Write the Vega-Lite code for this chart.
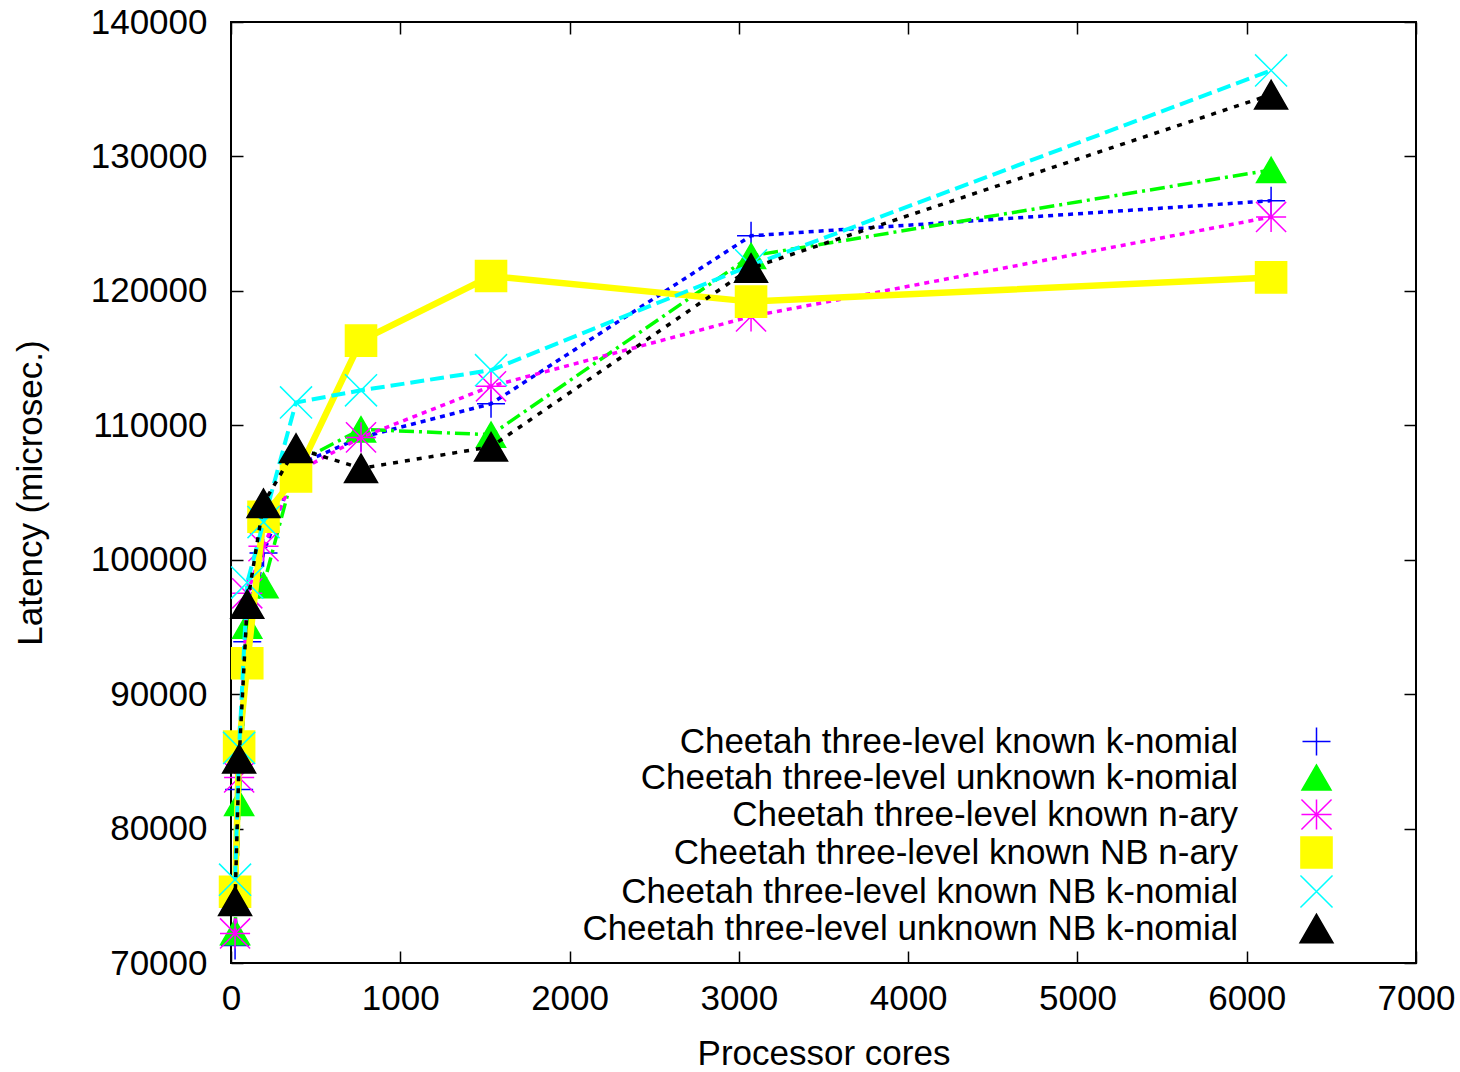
{
  "$schema": "https://vega.github.io/schema/vega-lite/v6.json",
  "width": 1185,
  "height": 941,
  "autosize": {"type": "none"},
  "padding": {"left": 231, "top": 22, "right": 44, "bottom": 109},
  "background": "white",
  "config": {
    "view": {"stroke": "#000000", "strokeWidth": 2},
    "font": "Liberation Sans",
    "axis": {
      "domain": false,
      "grid": false,
      "tickColor": "#000000",
      "tickWidth": 1.5,
      "tickSize": -12,
      "labelFont": "Liberation Sans",
      "labelFontSize": 35,
      "labelColor": "#000000",
      "labelFlush": false,
      "labelOverlap": false,
      "titleFont": "Liberation Sans",
      "titleFontSize": 35,
      "titleFontWeight": "normal",
      "titleColor": "#000000"
    },
    "legend": {
      "orient": "none",
      "legendX": 1068,
      "legendY": 702,
      "padding": 0,
      "labelAlign": "right",
      "labelOffset": -96,
      "labelFont": "Liberation Sans",
      "labelFontSize": 35,
      "labelColor": "#000000",
      "labelLimit": 900,
      "rowPadding": 0,
      "symbolStrokeWidth": 1.5,
      "symbolOpacity": 1
    }
  },
  "data": {
    "values": [
      {"series": "Cheetah three-level known k-nomial", "cores": 24, "latency": 71300},
      {"series": "Cheetah three-level known k-nomial", "cores": 48, "latency": 82900},
      {"series": "Cheetah three-level known k-nomial", "cores": 96, "latency": 93900},
      {"series": "Cheetah three-level known k-nomial", "cores": 192, "latency": 100500},
      {"series": "Cheetah three-level known k-nomial", "cores": 384, "latency": 107000},
      {"series": "Cheetah three-level known k-nomial", "cores": 768, "latency": 109100},
      {"series": "Cheetah three-level known k-nomial", "cores": 1536, "latency": 111600},
      {"series": "Cheetah three-level known k-nomial", "cores": 3072, "latency": 124100},
      {"series": "Cheetah three-level known k-nomial", "cores": 6144, "latency": 126700},

      {"series": "Cheetah three-level unknown k-nomial", "cores": 24, "latency": 72300},
      {"series": "Cheetah three-level unknown k-nomial", "cores": 48, "latency": 81900},
      {"series": "Cheetah three-level unknown k-nomial", "cores": 96, "latency": 95100},
      {"series": "Cheetah three-level unknown k-nomial", "cores": 192, "latency": 98100},
      {"series": "Cheetah three-level unknown k-nomial", "cores": 384, "latency": 107200},
      {"series": "Cheetah three-level unknown k-nomial", "cores": 768, "latency": 109700},
      {"series": "Cheetah three-level unknown k-nomial", "cores": 1536, "latency": 109300},
      {"series": "Cheetah three-level unknown k-nomial", "cores": 3072, "latency": 122600},
      {"series": "Cheetah three-level unknown k-nomial", "cores": 6144, "latency": 129000},

      {"series": "Cheetah three-level known n-ary", "cores": 24, "latency": 72200},
      {"series": "Cheetah three-level known n-ary", "cores": 48, "latency": 83800},
      {"series": "Cheetah three-level known n-ary", "cores": 96, "latency": 97500},
      {"series": "Cheetah three-level known n-ary", "cores": 192, "latency": 101000},
      {"series": "Cheetah three-level known n-ary", "cores": 384, "latency": 106500},
      {"series": "Cheetah three-level known n-ary", "cores": 768, "latency": 109100},
      {"series": "Cheetah three-level known n-ary", "cores": 1536, "latency": 112900},
      {"series": "Cheetah three-level known n-ary", "cores": 3072, "latency": 118100},
      {"series": "Cheetah three-level known n-ary", "cores": 6144, "latency": 125500},

      {"series": "Cheetah three-level known NB n-ary", "cores": 24, "latency": 75300},
      {"series": "Cheetah three-level known NB n-ary", "cores": 48, "latency": 86100},
      {"series": "Cheetah three-level known NB n-ary", "cores": 96, "latency": 92300},
      {"series": "Cheetah three-level known NB n-ary", "cores": 192, "latency": 103200},
      {"series": "Cheetah three-level known NB n-ary", "cores": 384, "latency": 106200},
      {"series": "Cheetah three-level known NB n-ary", "cores": 768, "latency": 116300},
      {"series": "Cheetah three-level known NB n-ary", "cores": 1536, "latency": 121100},
      {"series": "Cheetah three-level known NB n-ary", "cores": 3072, "latency": 119200},
      {"series": "Cheetah three-level known NB n-ary", "cores": 6144, "latency": 121000},

      {"series": "Cheetah three-level known NB k-nomial", "cores": 24, "latency": 76200},
      {"series": "Cheetah three-level known NB k-nomial", "cores": 48, "latency": 86000},
      {"series": "Cheetah three-level known NB k-nomial", "cores": 96, "latency": 98300},
      {"series": "Cheetah three-level known NB k-nomial", "cores": 192, "latency": 102800},
      {"series": "Cheetah three-level known NB k-nomial", "cores": 384, "latency": 111700},
      {"series": "Cheetah three-level known NB k-nomial", "cores": 768, "latency": 112600},
      {"series": "Cheetah three-level known NB k-nomial", "cores": 1536, "latency": 114100},
      {"series": "Cheetah three-level known NB k-nomial", "cores": 3072, "latency": 121900},
      {"series": "Cheetah three-level known NB k-nomial", "cores": 6144, "latency": 136400},

      {"series": "Cheetah three-level unknown NB k-nomial", "cores": 24, "latency": 74600},
      {"series": "Cheetah three-level unknown NB k-nomial", "cores": 48, "latency": 85200},
      {"series": "Cheetah three-level unknown NB k-nomial", "cores": 96, "latency": 96700},
      {"series": "Cheetah three-level unknown NB k-nomial", "cores": 192, "latency": 104200},
      {"series": "Cheetah three-level unknown NB k-nomial", "cores": 384, "latency": 108300},
      {"series": "Cheetah three-level unknown NB k-nomial", "cores": 768, "latency": 106800},
      {"series": "Cheetah three-level unknown NB k-nomial", "cores": 1536, "latency": 108400},
      {"series": "Cheetah three-level unknown NB k-nomial", "cores": 3072, "latency": 121700},
      {"series": "Cheetah three-level unknown NB k-nomial", "cores": 6144, "latency": 134600}
    ]
  },
  "layer": [
    {
      "encoding": {
        "x": {
          "field": "cores", "type": "quantitative",
          "scale": {"domain": [0, 7000], "nice": false, "zero": false},
          "axis": {"values": [0, 1000, 2000, 3000, 4000, 5000, 6000, 7000], "format": "d", "labelPadding": 30, "title": "Processor cores", "titleY": 90, "titleBaseline": "middle"}
        },
        "y": {
          "field": "latency", "type": "quantitative",
          "scale": {"domain": [70000, 140000], "nice": false, "zero": false},
          "axis": {"values": [70000, 80000, 90000, 100000, 110000, 120000, 130000, 140000], "format": "d", "labelPadding": 36, "title": "Latency (microsec.)", "titleX": -201, "titleBaseline": "middle"}
        }
      },
      "layer": [
        {
          "transform": [{"filter": "datum.series === 'Cheetah three-level known k-nomial'"}],
          "mark": {"type": "line", "color": "#0000ff", "strokeWidth": 3.5, "strokeDash": [5, 5], "strokeCap": "butt"}
        },
        {
          "transform": [{"filter": "datum.series === 'Cheetah three-level known k-nomial'"}],
          "mark": {"type": "point", "opacity": 1, "strokeWidth": 1.5},
          "encoding": {
            "fill": {"field": "series", "type": "nominal", "title": null, "scale": {"domain": ["Cheetah three-level known k-nomial", "Cheetah three-level unknown k-nomial", "Cheetah three-level known n-ary", "Cheetah three-level known NB n-ary", "Cheetah three-level known NB k-nomial", "Cheetah three-level unknown NB k-nomial"], "range": ["transparent", "#00ff00", "transparent", "#ffff00", "transparent", "#000000"]}},
            "stroke": {"field": "series", "type": "nominal", "title": null, "scale": {"domain": ["Cheetah three-level known k-nomial", "Cheetah three-level unknown k-nomial", "Cheetah three-level known n-ary", "Cheetah three-level known NB n-ary", "Cheetah three-level known NB k-nomial", "Cheetah three-level unknown NB k-nomial"], "range": ["#0000ff", "#00ff00", "#ff00ff", "#ffff00", "#00ffff", "#000000"]}},
            "shape": {"field": "series", "type": "nominal", "title": null, "scale": {"domain": ["Cheetah three-level known k-nomial", "Cheetah three-level unknown k-nomial", "Cheetah three-level known n-ary", "Cheetah three-level known NB n-ary", "Cheetah three-level known NB k-nomial", "Cheetah three-level unknown NB k-nomial"], "range": ["M-1,0L1,0M0,-1L0,1", "triangle-up", "M-1,0L1,0M0,-1L0,1M-1,-1L1,1M-1,1L1,-1", "square", "M-1,-1L1,1M-1,1L1,-1", "triangle-up"]}},
            "size": {"field": "series", "type": "nominal", "title": null, "scale": {"domain": ["Cheetah three-level known k-nomial", "Cheetah three-level unknown k-nomial", "Cheetah three-level known n-ary", "Cheetah three-level known NB n-ary", "Cheetah three-level known NB k-nomial", "Cheetah three-level unknown NB k-nomial"], "range": [784, 1089, 784, 841, 841, 784]}}
          }
        },
        {
          "transform": [{"filter": "datum.series === 'Cheetah three-level unknown k-nomial'"}],
          "mark": {"type": "line", "color": "#00ff00", "strokeWidth": 3.5, "strokeDash": [15, 5, 3, 5], "strokeCap": "butt"}
        },
        {
          "transform": [{"filter": "datum.series === 'Cheetah three-level unknown k-nomial'"}],
          "mark": {"type": "point", "opacity": 1, "strokeWidth": 1.5},
          "encoding": {
            "fill": {"field": "series", "type": "nominal", "title": null, "scale": {"domain": ["Cheetah three-level known k-nomial", "Cheetah three-level unknown k-nomial", "Cheetah three-level known n-ary", "Cheetah three-level known NB n-ary", "Cheetah three-level known NB k-nomial", "Cheetah three-level unknown NB k-nomial"], "range": ["transparent", "#00ff00", "transparent", "#ffff00", "transparent", "#000000"]}},
            "stroke": {"field": "series", "type": "nominal", "title": null, "scale": {"domain": ["Cheetah three-level known k-nomial", "Cheetah three-level unknown k-nomial", "Cheetah three-level known n-ary", "Cheetah three-level known NB n-ary", "Cheetah three-level known NB k-nomial", "Cheetah three-level unknown NB k-nomial"], "range": ["#0000ff", "#00ff00", "#ff00ff", "#ffff00", "#00ffff", "#000000"]}},
            "shape": {"field": "series", "type": "nominal", "title": null, "scale": {"domain": ["Cheetah three-level known k-nomial", "Cheetah three-level unknown k-nomial", "Cheetah three-level known n-ary", "Cheetah three-level known NB n-ary", "Cheetah three-level known NB k-nomial", "Cheetah three-level unknown NB k-nomial"], "range": ["M-1,0L1,0M0,-1L0,1", "triangle-up", "M-1,0L1,0M0,-1L0,1M-1,-1L1,1M-1,1L1,-1", "square", "M-1,-1L1,1M-1,1L1,-1", "triangle-up"]}},
            "size": {"field": "series", "type": "nominal", "title": null, "scale": {"domain": ["Cheetah three-level known k-nomial", "Cheetah three-level unknown k-nomial", "Cheetah three-level known n-ary", "Cheetah three-level known NB n-ary", "Cheetah three-level known NB k-nomial", "Cheetah three-level unknown NB k-nomial"], "range": [784, 1089, 784, 841, 841, 784]}}
          }
        },
        {
          "transform": [{"filter": "datum.series === 'Cheetah three-level known n-ary'"}],
          "mark": {"type": "line", "color": "#ff00ff", "strokeWidth": 3.5, "strokeDash": [5, 5], "strokeCap": "butt"}
        },
        {
          "transform": [{"filter": "datum.series === 'Cheetah three-level known n-ary'"}],
          "mark": {"type": "point", "opacity": 1, "strokeWidth": 1.5},
          "encoding": {
            "fill": {"field": "series", "type": "nominal", "title": null, "scale": {"domain": ["Cheetah three-level known k-nomial", "Cheetah three-level unknown k-nomial", "Cheetah three-level known n-ary", "Cheetah three-level known NB n-ary", "Cheetah three-level known NB k-nomial", "Cheetah three-level unknown NB k-nomial"], "range": ["transparent", "#00ff00", "transparent", "#ffff00", "transparent", "#000000"]}},
            "stroke": {"field": "series", "type": "nominal", "title": null, "scale": {"domain": ["Cheetah three-level known k-nomial", "Cheetah three-level unknown k-nomial", "Cheetah three-level known n-ary", "Cheetah three-level known NB n-ary", "Cheetah three-level known NB k-nomial", "Cheetah three-level unknown NB k-nomial"], "range": ["#0000ff", "#00ff00", "#ff00ff", "#ffff00", "#00ffff", "#000000"]}},
            "shape": {"field": "series", "type": "nominal", "title": null, "scale": {"domain": ["Cheetah three-level known k-nomial", "Cheetah three-level unknown k-nomial", "Cheetah three-level known n-ary", "Cheetah three-level known NB n-ary", "Cheetah three-level known NB k-nomial", "Cheetah three-level unknown NB k-nomial"], "range": ["M-1,0L1,0M0,-1L0,1", "triangle-up", "M-1,0L1,0M0,-1L0,1M-1,-1L1,1M-1,1L1,-1", "square", "M-1,-1L1,1M-1,1L1,-1", "triangle-up"]}},
            "size": {"field": "series", "type": "nominal", "title": null, "scale": {"domain": ["Cheetah three-level known k-nomial", "Cheetah three-level unknown k-nomial", "Cheetah three-level known n-ary", "Cheetah three-level known NB n-ary", "Cheetah three-level known NB k-nomial", "Cheetah three-level unknown NB k-nomial"], "range": [784, 1089, 784, 841, 841, 784]}}
          }
        },
        {
          "transform": [{"filter": "datum.series === 'Cheetah three-level known NB n-ary'"}],
          "mark": {"type": "line", "color": "#ffff00", "strokeWidth": 6.5, "strokeCap": "butt"}
        },
        {
          "transform": [{"filter": "datum.series === 'Cheetah three-level known NB n-ary'"}],
          "mark": {"type": "point", "opacity": 1, "strokeWidth": 1.5},
          "encoding": {
            "fill": {"field": "series", "type": "nominal", "title": null, "scale": {"domain": ["Cheetah three-level known k-nomial", "Cheetah three-level unknown k-nomial", "Cheetah three-level known n-ary", "Cheetah three-level known NB n-ary", "Cheetah three-level known NB k-nomial", "Cheetah three-level unknown NB k-nomial"], "range": ["transparent", "#00ff00", "transparent", "#ffff00", "transparent", "#000000"]}},
            "stroke": {"field": "series", "type": "nominal", "title": null, "scale": {"domain": ["Cheetah three-level known k-nomial", "Cheetah three-level unknown k-nomial", "Cheetah three-level known n-ary", "Cheetah three-level known NB n-ary", "Cheetah three-level known NB k-nomial", "Cheetah three-level unknown NB k-nomial"], "range": ["#0000ff", "#00ff00", "#ff00ff", "#ffff00", "#00ffff", "#000000"]}},
            "shape": {"field": "series", "type": "nominal", "title": null, "scale": {"domain": ["Cheetah three-level known k-nomial", "Cheetah three-level unknown k-nomial", "Cheetah three-level known n-ary", "Cheetah three-level known NB n-ary", "Cheetah three-level known NB k-nomial", "Cheetah three-level unknown NB k-nomial"], "range": ["M-1,0L1,0M0,-1L0,1", "triangle-up", "M-1,0L1,0M0,-1L0,1M-1,-1L1,1M-1,1L1,-1", "square", "M-1,-1L1,1M-1,1L1,-1", "triangle-up"]}},
            "size": {"field": "series", "type": "nominal", "title": null, "scale": {"domain": ["Cheetah three-level known k-nomial", "Cheetah three-level unknown k-nomial", "Cheetah three-level known n-ary", "Cheetah three-level known NB n-ary", "Cheetah three-level known NB k-nomial", "Cheetah three-level unknown NB k-nomial"], "range": [784, 1089, 784, 841, 841, 784]}}
          }
        },
        {
          "transform": [{"filter": "datum.series === 'Cheetah three-level known NB k-nomial'"}],
          "mark": {"type": "line", "color": "#00ffff", "strokeWidth": 4, "strokeDash": [14, 6], "strokeCap": "butt"}
        },
        {
          "transform": [{"filter": "datum.series === 'Cheetah three-level known NB k-nomial'"}],
          "mark": {"type": "point", "opacity": 1, "strokeWidth": 1.5},
          "encoding": {
            "fill": {"field": "series", "type": "nominal", "title": null, "scale": {"domain": ["Cheetah three-level known k-nomial", "Cheetah three-level unknown k-nomial", "Cheetah three-level known n-ary", "Cheetah three-level known NB n-ary", "Cheetah three-level known NB k-nomial", "Cheetah three-level unknown NB k-nomial"], "range": ["transparent", "#00ff00", "transparent", "#ffff00", "transparent", "#000000"]}},
            "stroke": {"field": "series", "type": "nominal", "title": null, "scale": {"domain": ["Cheetah three-level known k-nomial", "Cheetah three-level unknown k-nomial", "Cheetah three-level known n-ary", "Cheetah three-level known NB n-ary", "Cheetah three-level known NB k-nomial", "Cheetah three-level unknown NB k-nomial"], "range": ["#0000ff", "#00ff00", "#ff00ff", "#ffff00", "#00ffff", "#000000"]}},
            "shape": {"field": "series", "type": "nominal", "title": null, "scale": {"domain": ["Cheetah three-level known k-nomial", "Cheetah three-level unknown k-nomial", "Cheetah three-level known n-ary", "Cheetah three-level known NB n-ary", "Cheetah three-level known NB k-nomial", "Cheetah three-level unknown NB k-nomial"], "range": ["M-1,0L1,0M0,-1L0,1", "triangle-up", "M-1,0L1,0M0,-1L0,1M-1,-1L1,1M-1,1L1,-1", "square", "M-1,-1L1,1M-1,1L1,-1", "triangle-up"]}},
            "size": {"field": "series", "type": "nominal", "title": null, "scale": {"domain": ["Cheetah three-level known k-nomial", "Cheetah three-level unknown k-nomial", "Cheetah three-level known n-ary", "Cheetah three-level known NB n-ary", "Cheetah three-level known NB k-nomial", "Cheetah three-level unknown NB k-nomial"], "range": [784, 1089, 784, 841, 841, 784]}}
          }
        },
        {
          "transform": [{"filter": "datum.series === 'Cheetah three-level unknown NB k-nomial'"}],
          "mark": {"type": "line", "color": "#000000", "strokeWidth": 3.5, "strokeDash": [5, 7], "strokeCap": "butt"}
        },
        {
          "transform": [{"filter": "datum.series === 'Cheetah three-level unknown NB k-nomial'"}],
          "mark": {"type": "point", "opacity": 1, "strokeWidth": 1.5},
          "encoding": {
            "fill": {"field": "series", "type": "nominal", "title": null, "scale": {"domain": ["Cheetah three-level known k-nomial", "Cheetah three-level unknown k-nomial", "Cheetah three-level known n-ary", "Cheetah three-level known NB n-ary", "Cheetah three-level known NB k-nomial", "Cheetah three-level unknown NB k-nomial"], "range": ["transparent", "#00ff00", "transparent", "#ffff00", "transparent", "#000000"]}},
            "stroke": {"field": "series", "type": "nominal", "title": null, "scale": {"domain": ["Cheetah three-level known k-nomial", "Cheetah three-level unknown k-nomial", "Cheetah three-level known n-ary", "Cheetah three-level known NB n-ary", "Cheetah three-level known NB k-nomial", "Cheetah three-level unknown NB k-nomial"], "range": ["#0000ff", "#00ff00", "#ff00ff", "#ffff00", "#00ffff", "#000000"]}},
            "shape": {"field": "series", "type": "nominal", "title": null, "scale": {"domain": ["Cheetah three-level known k-nomial", "Cheetah three-level unknown k-nomial", "Cheetah three-level known n-ary", "Cheetah three-level known NB n-ary", "Cheetah three-level known NB k-nomial", "Cheetah three-level unknown NB k-nomial"], "range": ["M-1,0L1,0M0,-1L0,1", "triangle-up", "M-1,0L1,0M0,-1L0,1M-1,-1L1,1M-1,1L1,-1", "square", "M-1,-1L1,1M-1,1L1,-1", "triangle-up"]}},
            "size": {"field": "series", "type": "nominal", "title": null, "scale": {"domain": ["Cheetah three-level known k-nomial", "Cheetah three-level unknown k-nomial", "Cheetah three-level known n-ary", "Cheetah three-level known NB n-ary", "Cheetah three-level known NB k-nomial", "Cheetah three-level unknown NB k-nomial"], "range": [784, 1089, 784, 841, 841, 784]}}
          }
        }
      ]
    },
    {
      "mark": {"type": "point", "opacity": 0},
      "encoding": {
        "x": {
          "field": "cores", "type": "quantitative",
          "scale": {"domain": [0, 7000], "nice": false, "zero": false},
          "axis": {"orient": "top", "values": [0, 1000, 2000, 3000, 4000, 5000, 6000, 7000], "labels": false, "title": null}
        },
        "y": {
          "field": "latency", "type": "quantitative",
          "scale": {"domain": [70000, 140000], "nice": false, "zero": false},
          "axis": {"orient": "right", "values": [70000, 80000, 90000, 100000, 110000, 120000, 130000, 140000], "labels": false, "title": null}
        }
      }
    }
  ],
  "resolve": {"axis": {"x": "independent", "y": "independent"}}
}
